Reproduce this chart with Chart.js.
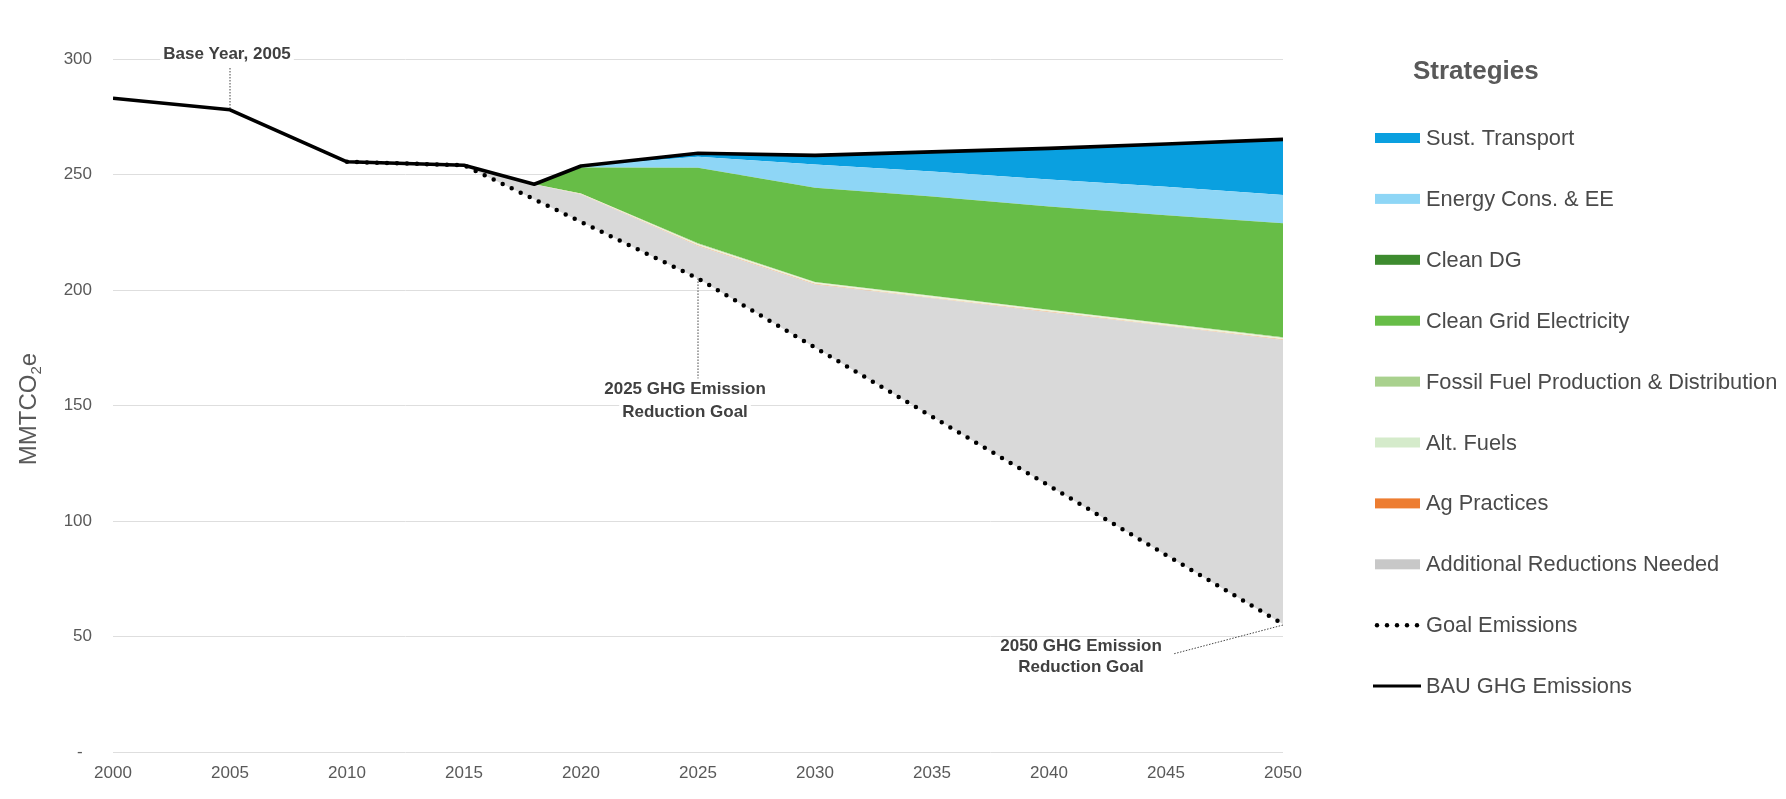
<!DOCTYPE html>
<html>
<head>
<meta charset="utf-8">
<script src="https://cdn.jsdelivr.net/npm/chart.js@4.4.0/dist/chart.umd.min.js"></script>
<style>
  html, body { margin: 0; padding: 0; background: #fff; }
  #wrap { width: 1786px; height: 799px; }
</style>
</head>
<body>
<div id="wrap"><canvas id="ghgChart" width="1786" height="799"></canvas></div>
<script>
// --- data (MMTCO2e) ---
const years = [2000, 2005, 2010, 2015, 2018, 2020, 2025, 2030, 2035, 2040, 2045, 2050];
const bauEmissions  = [283, 278, 255.5, 254, 245.8, 253.7, 259.2, 258.3, 259.8, 261.3, 263.2, 265.2];
const goalEmissions = [null, null, 255.5, 254, 239.3, 229.5, 205, 175.1, 145.2, 115.3, 85.3, 55.4];

// strategy wedges, stacked from the goal line up to BAU
const additionalReductions = [null, null, null, 0, 6.5, 11.8, 14.1, 27.3, 51.2, 75.1, 99.1, 123.0];
const agPractices          = [null, null, null, 0, 0, 0.1, 0.15, 0.15, 0.15, 0.15, 0.15, 0.15];
const altFuels             = [null, null, null, 0, 0, 0.3, 0.7, 0.7, 0.7, 0.7, 0.7, 0.7];
const fossilFuel           = [null, null, null, 0, 0, 0.1, 0.25, 0.25, 0.25, 0.25, 0.25, 0.25];
const cleanGrid            = [null, null, null, 0, 0, 11.2, 32.7, 40.8, 43.0, 44.7, 46.9, 49.4];
const cleanDG              = [null, null, null, 0, 0, 0, 0, 0, 0, 0, 0, 0];
const energyConsEE         = [null, null, null, 0, 0, 0.7, 4.8, 10.0, 10.8, 11.6, 12.3, 12.2];
const sustTransport        = [null, null, null, 0, 0, 0, 1.5, 4.0, 8.5, 13.5, 18.5, 24.1];

const yTicks = [0, 50, 100, 150, 200, 250, 300];

// --- styles ---
const FONT = '"Liberation Sans", Arial, sans-serif';
const TEXT_GRAY = '#595959';
const colors = {
  transport: '#0AA0E0',
  energy: '#8ED6F6',
  cleanDG: '#3D8B2F',
  cleanGrid: '#67BD47',
  fossil: '#A9D18E',
  altFuels: '#EEF3D8',
  ag: '#F2A06A',
  additional: '#D9D9D9'
};

Chart.defaults.font.family = FONT;

const wedge = (label, data, color) => ({
  label: label,
  data: data,
  stack: 'wedges',
  fill: '-1',
  backgroundColor: color,
  borderColor: color,
  borderWidth: 0,
  pointRadius: 0,
  tension: 0
});

// legend entries, top to bottom
const legendEntries = [
  { text: 'Sust. Transport', color: colors.transport, kind: 'box' },
  { text: 'Energy Cons. & EE', color: colors.energy, kind: 'box' },
  { text: 'Clean DG', color: colors.cleanDG, kind: 'box' },
  { text: 'Clean Grid Electricity', color: colors.cleanGrid, kind: 'box' },
  { text: 'Fossil Fuel Production & Distribution', color: colors.fossil, kind: 'box' },
  { text: 'Alt. Fuels', color: '#D5EBCB', kind: 'box' },
  { text: 'Ag Practices', color: '#ED7D31', kind: 'box' },
  { text: 'Additional Reductions Needed', color: '#C8C8C8', kind: 'box' },
  { text: 'Goal Emissions', color: '#000', kind: 'dots' },
  { text: 'BAU GHG Emissions', color: '#000', kind: 'line' }
];

// label with white backing so gridlines stop behind it
const drawLabel = (ctx, lines, cx, cy, lineGap) => {
  ctx.font = 'bold 17px ' + FONT;
  ctx.textAlign = 'center';
  ctx.textBaseline = 'middle';
  lines.forEach((t, i) => {
    const w = ctx.measureText(t).width;
    const y = cy + i * lineGap;
    ctx.fillStyle = '#fff';
    ctx.fillRect(cx - w / 2 - 3, y - 9, w + 6, 18);
    ctx.fillStyle = '#404040';
    ctx.fillText(t, cx, y);
  });
};

const pointer = (ctx, x1, y1, x2, y2) => {
  ctx.save();
  ctx.strokeStyle = '#444';
  ctx.lineWidth = 1;
  ctx.setLineDash([1.5, 1.5]);
  ctx.beginPath();
  ctx.moveTo(x1, y1);
  ctx.lineTo(x2, y2);
  ctx.stroke();
  ctx.restore();
};

const extrasPlugin = {
  id: 'extras',
  afterDraw(chart) {
    const ctx = chart.ctx;
    const xs = chart.scales.x, ys = chart.scales.y;
    ctx.save();

    // y axis title MMTCO2e
    ctx.save();
    ctx.translate(36, 409);
    ctx.rotate(-Math.PI / 2);
    ctx.fillStyle = TEXT_GRAY;
    ctx.textBaseline = 'alphabetic';
    ctx.textAlign = 'left';
    ctx.font = '24px ' + FONT;
    const wMain = ctx.measureText('MMTCO').width;
    const wE = ctx.measureText('e').width;
    ctx.font = '15px ' + FONT;
    const wSub = ctx.measureText('2').width;
    let x0 = -(wMain + wSub + wE) / 2;
    ctx.font = '24px ' + FONT;
    ctx.fillText('MMTCO', x0, 0);
    ctx.font = '15px ' + FONT;
    ctx.fillText('2', x0 + wMain, 5);
    ctx.font = '24px ' + FONT;
    ctx.fillText('e', x0 + wMain + wSub, 0);
    ctx.restore();

    // annotations
    const bx = xs.getPixelForValue(2005), by = ys.getPixelForValue(bauEmissions[1]);
    pointer(ctx, bx, ys.getPixelForValue(300) + 9, bx, by);
    drawLabel(ctx, ['Base Year, 2005'], bx - 3, ys.getPixelForValue(300) - 5, 0);

    const gx = xs.getPixelForValue(2025), gy = ys.getPixelForValue(goalEmissions[6]);
    pointer(ctx, gx, gy, gx, gy + 100);
    drawLabel(ctx, ['2025 GHG Emission', 'Reduction Goal'], gx - 13, gy + 111, 23);

    const ex = xs.getPixelForValue(2050), ey = ys.getPixelForValue(goalEmissions[11]);
    pointer(ctx, ex, ey + 1, ex - 110, ey + 30);
    drawLabel(ctx, ['2050 GHG Emission', 'Reduction Goal'], ex - 202, ey + 22, 21);

    // legend
    ctx.font = 'bold 26px ' + FONT;
    ctx.fillStyle = TEXT_GRAY;
    ctx.textAlign = 'left';
    ctx.textBaseline = 'middle';
    ctx.fillText('Strategies', 1413, 72);

    legendEntries.forEach((e, i) => {
      const y = 138 + i * 60.9;
      if (e.kind === 'box') {
        ctx.fillStyle = e.color;
        ctx.fillRect(1375, y - 5, 45, 10);
      } else if (e.kind === 'dots') {
        ctx.fillStyle = e.color;
        for (let k = 0; k < 5; k++) {
          ctx.beginPath();
          ctx.arc(1377 + k * 10, y, 2.2, 0, Math.PI * 2);
          ctx.fill();
        }
      } else {
        ctx.strokeStyle = e.color;
        ctx.lineWidth = 3;
        ctx.beginPath();
        ctx.moveTo(1373, y);
        ctx.lineTo(1421, y);
        ctx.stroke();
      }
      ctx.font = '21.8px ' + FONT;
      ctx.fillStyle = '#4a4a4a';
      ctx.fillText(e.text, 1426, y + 1);
    });

    ctx.restore();
  }
};

new Chart(document.getElementById('ghgChart').getContext('2d'), {
  type: 'line',
  data: {
    labels: years,
    datasets: [
      {
        label: 'BAU GHG Emissions', data: bauEmissions, stack: 'bau',
        borderColor: '#000', borderWidth: 3.6, fill: false, pointRadius: 0, tension: 0,
        borderJoinStyle: 'round'
      },
      {
        label: 'Goal Emissions', data: goalEmissions, stack: 'goal',
        borderColor: '#000', borderWidth: 4.5, borderDash: [0, 10], borderCapStyle: 'round',
        fill: false, pointRadius: 0, tension: 0
      },
      {
        label: 'base', data: goalEmissions, stack: 'wedges',
        borderWidth: 0, borderColor: 'rgba(0,0,0,0)', backgroundColor: 'rgba(0,0,0,0)',
        fill: false, pointRadius: 0
      },
      wedge('Additional Reductions Needed', additionalReductions, colors.additional),
      wedge('Ag Practices', agPractices, colors.ag),
      wedge('Alt. Fuels', altFuels, colors.altFuels),
      wedge('Fossil Fuel Production & Distribution', fossilFuel, colors.fossil),
      wedge('Clean Grid Electricity', cleanGrid, colors.cleanGrid),
      wedge('Clean DG', cleanDG, colors.cleanDG),
      wedge('Energy Cons. & EE', energyConsEE, colors.energy),
      wedge('Sust. Transport', sustTransport, colors.transport)
    ]
  },
  options: {
    responsive: false,
    animation: false,
    devicePixelRatio: 1,
    layout: { padding: { top: 59, right: 503, left: 0, bottom: 0 } },
    plugins: {
      legend: { display: false },
      tooltip: { enabled: false }
    },
    scales: {
      x: {
        type: 'linear',
        min: 2000,
        max: 2050,
        afterFit: s => { s.height = 47; },
        grid: { display: false, drawTicks: false },
        border: { display: false },
        ticks: {
          stepSize: 5,
          padding: 11,
          color: TEXT_GRAY,
          font: { size: 17 },
          maxRotation: 0,
          callback: v => String(v)
        }
      },
      y: {
        stacked: true,
        min: 0,
        max: 300,
        afterFit: s => { s.width = 113; },
        afterBuildTicks: s => { s.ticks = yTicks.map(v => ({ value: v })); },
        grid: { color: '#DEDEDE', lineWidth: 1, drawTicks: false },
        border: { display: false },
        ticks: {
          padding: 21,
          color: TEXT_GRAY,
          font: { size: 17 },
          callback: v => (v === 0 ? '-  ' : String(v))
        }
      }
    }
  },
  plugins: [extrasPlugin]
});
</script>
</body>
</html>
